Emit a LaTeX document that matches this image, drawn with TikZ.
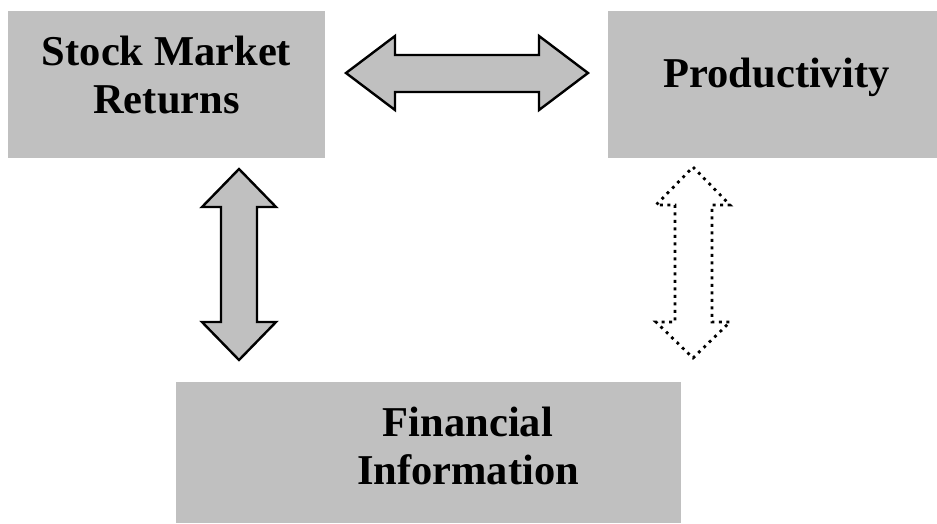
\documentclass[tikz,border=0pt]{standalone}
\usepackage{fontspec}
\setmainfont{Liberation Serif}
\definecolor{boxgray}{RGB}{192,192,192}
\tikzset{
  box/.style={fill=boxgray,inner sep=0pt},
  boxtext/.style={inner sep=0pt,align=center,font=\bfseries\fontsize{42.5}{48}\selectfont},
  fatarrow/.style={draw,fill=boxgray,line width=2.4pt,line join=miter},
  dotarrow/.style={draw,fill=white,line width=2.8pt,dash pattern=on 2.8pt off 4.7pt}
}
\begin{document}
\begin{tikzpicture}[x=1pt,y=-1pt] % begins the tikz environment
    \useasboundingbox (0,0) rectangle (937,523);
    \node (stock) at (166.5,84.5) [box,minimum width=317pt,minimum height=147pt] {};
    \node (prod) at (772.5,84.5) [box,minimum width=329pt,minimum height=147pt] {};
    \node (fin) at (428.5,452.5) [box,minimum width=505pt,minimum height=141pt] {};
    \node (stocktext) at (166.5,75.5) [boxtext] {Stock Market\\Returns};
    \node (prodtext) at (776.5,77.5) [boxtext] {Productivity};
    \node (fintext) at (468,445.5) [boxtext] {Financial\\Information};
    % stock market <-> productivity
    \draw[fatarrow] (346,73) -- (395,36) -- (395,55) -- (539,55) -- (539,36)
      -- (588,73) -- (539,110) -- (539,92) -- (395,92) -- (395,110) -- cycle;
    % stock market <-> financial information
    \draw[fatarrow] (239,169) -- (276,207) -- (257,207) -- (257,322) -- (276,322)
      -- (239,360) -- (202,322) -- (221,322) -- (221,207) -- (202,207) -- cycle;
    % productivity <-> financial information
    \draw[dotarrow] (693,167) -- (730,205) -- (712,205) -- (712,322) -- (730,322)
      -- (693,358) -- (656,322) -- (675,322) -- (675,205) -- (656,205) -- cycle;
  \end{tikzpicture}
\end{document}
